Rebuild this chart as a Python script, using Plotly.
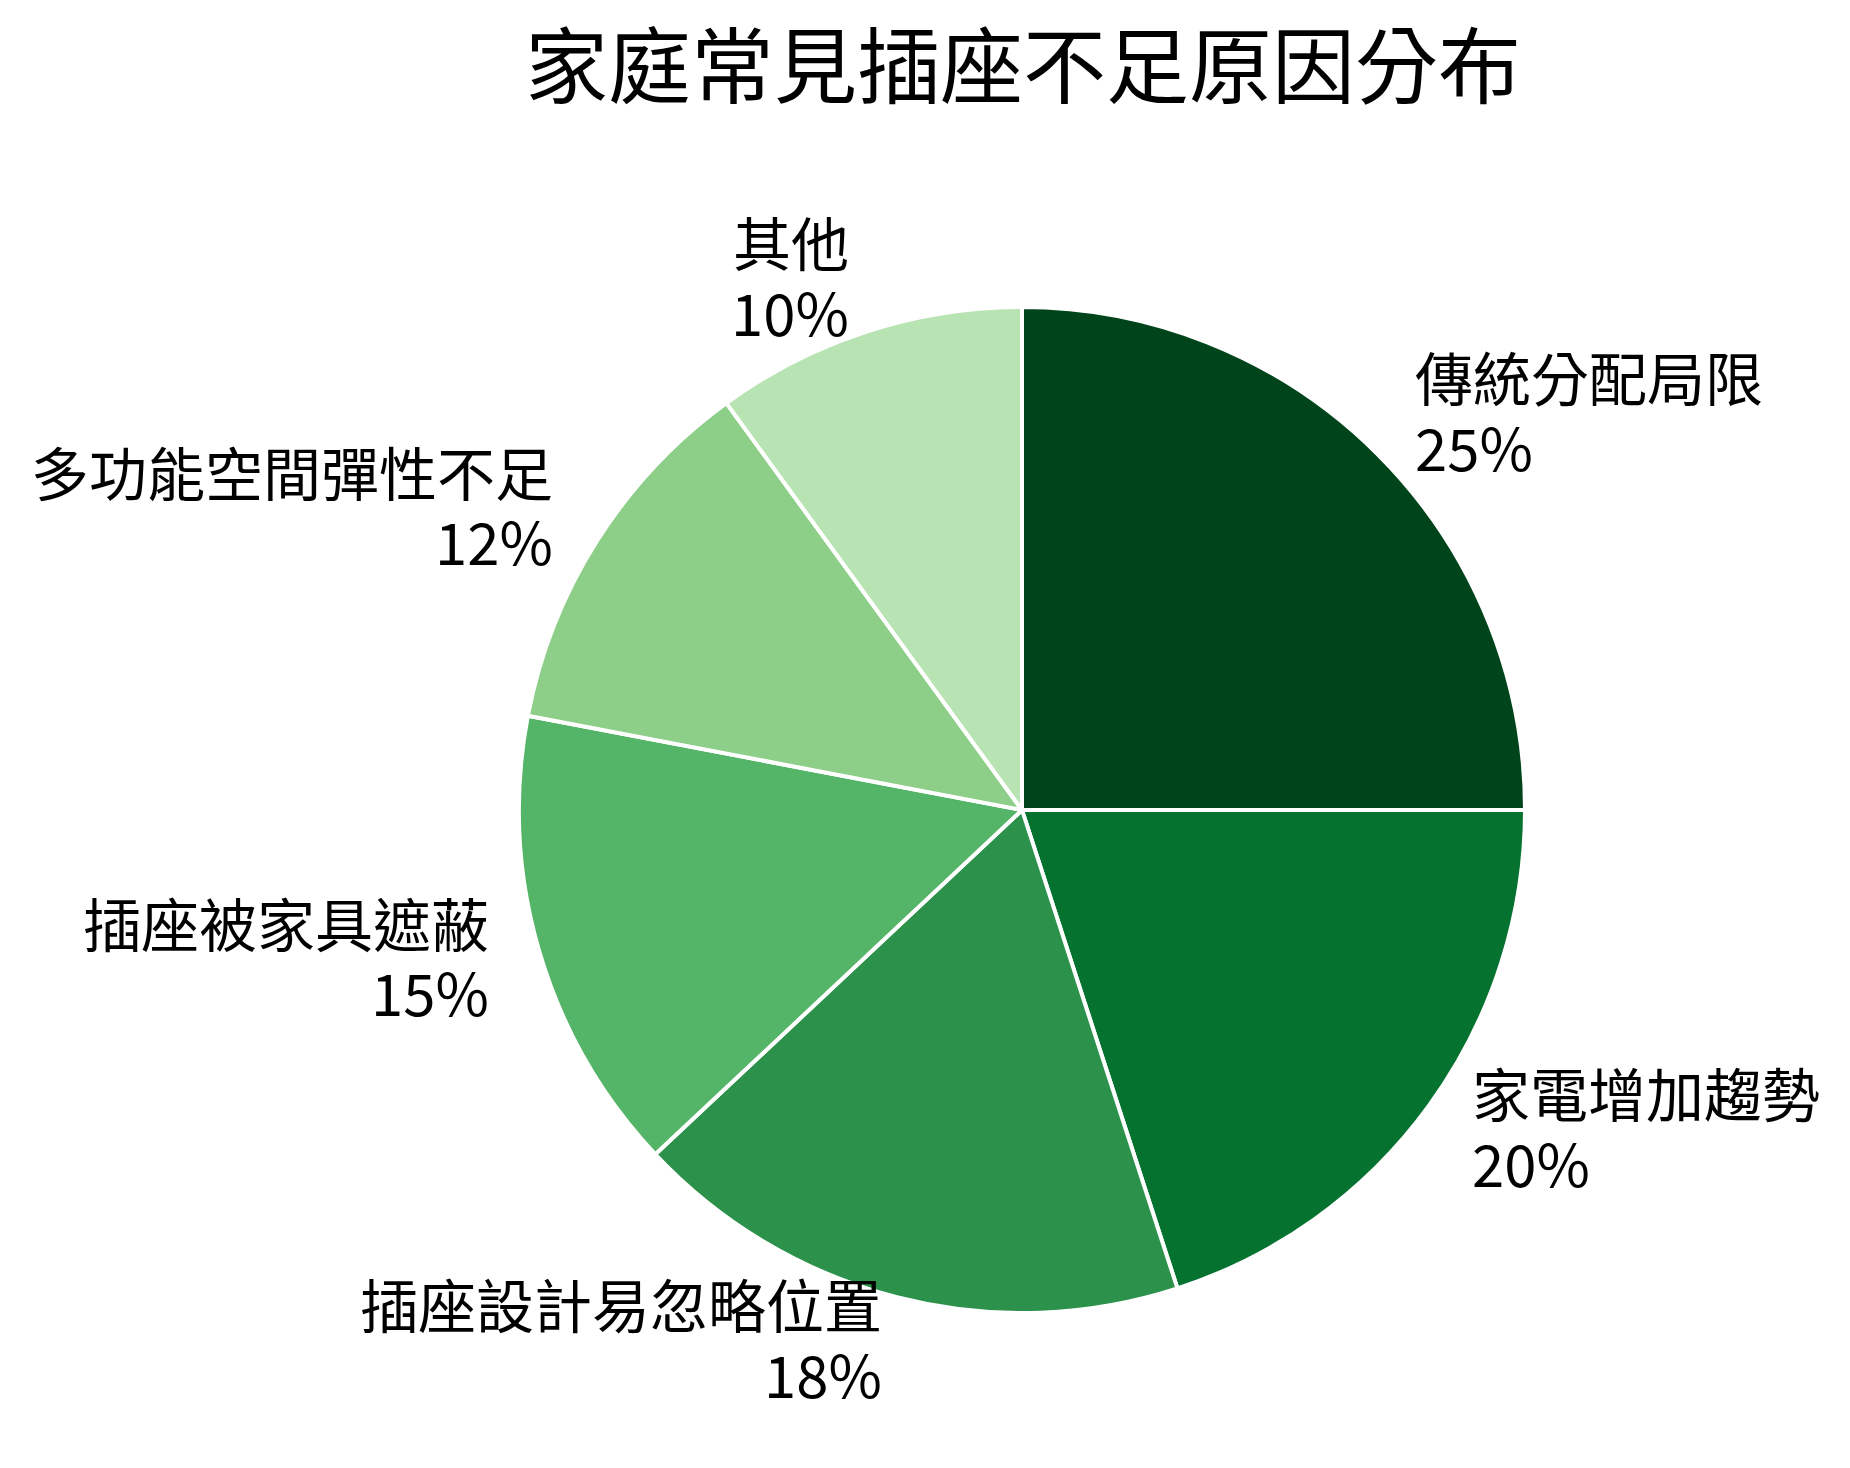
import math
import plotly.graph_objects as go

categories = ["傳統分配局限", "家電增加趨勢", "插座設計易忽略位置", "插座被家具遮蔽", "多功能空間彈性不足", "其他"]
values = [25, 20, 18, 15, 12, 10]
colors = ["#00441b", "#06722f", "#2c924b", "#54b468", "#8dce88", "#b8e3b2"]

W, H = 1850, 1468
cx, cy, r = 1014, 802, 503          # pie centre / radius in pixels
FONT = "Noto Sans CJK TC"
LABEL_SIZE = 58
LABEL_DIST = 1.1
LINE_GAP = 1.2 * LABEL_SIZE
Y_NUDGE = -8                         # baseline correction for plotly text boxes

fig = go.Figure(go.Pie(
    labels=categories,
    values=values,
    sort=False,
    direction="clockwise",
    rotation=0,
    marker=dict(colors=colors, line=dict(color="white", width=4)),
    textinfo="none",
    showlegend=False,
    hoverinfo="label+percent",
    domain=dict(x=[(cx - r) / W, (cx + r) / W], y=[(H - cy - r) / H, (H - cy + r) / H]),
))

# outside labels: at 1.1 r along each slice's mid-angle,
# left-aligned on the right half, right-aligned on the left half
total = sum(values)
cum = 0
annotations = []
for name, v in zip(categories, values):
    mid = (cum + v / 2) / total * 2 * math.pi
    cum += v
    px = cx + LABEL_DIST * r * math.sin(mid)
    py = cy - LABEL_DIST * r * math.cos(mid) + Y_NUDGE
    anchor = "left" if math.sin(mid) >= 0 else "right"
    pct = f"{round(v / total * 100)}%"
    for txt, yy in ((name, py - LINE_GAP / 2), (pct, py + LINE_GAP / 2)):
        annotations.append(dict(
            x=px / W, y=1 - yy / H, xref="paper", yref="paper",
            text=txt, showarrow=False, xanchor=anchor, yanchor="middle", align=anchor,
            font=dict(family=FONT, size=LABEL_SIZE, color="black"),
        ))

fig.update_layout(
    width=W, height=H,
    margin=dict(l=0, r=0, t=0, b=0),
    paper_bgcolor="white",
    plot_bgcolor="white",
    title=dict(text="家庭常見插座不足原因分布", x=1015 / W, xanchor="center", y=1 - 60 / H, yanchor="middle",
               font=dict(family=FONT, size=83, color="black")),
    font=dict(family=FONT),
    annotations=annotations,
)

fig.write_html("out.html")
